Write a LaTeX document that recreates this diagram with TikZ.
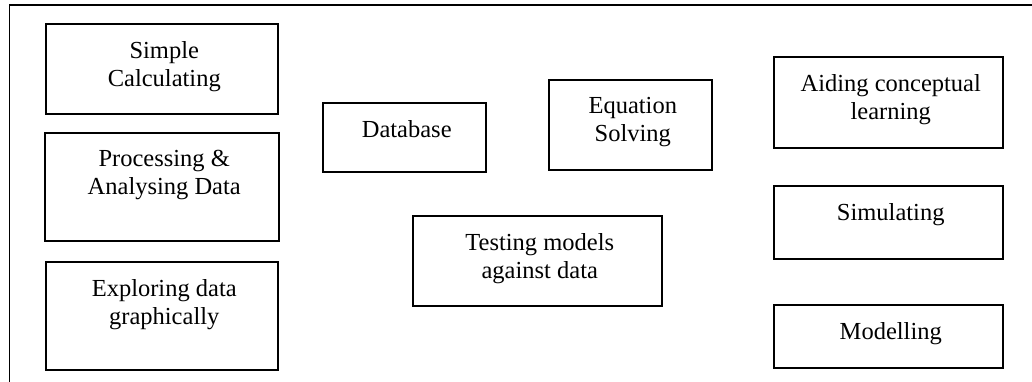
\documentclass[tikz,border=0pt]{standalone}
\usepackage{fontspec}
\setmainfont{Liberation Serif}
\tikzset{
  box/.style={draw, line width=1.5pt, rectangle, inner sep=0pt, anchor=north west},
  lbl/.style={font=\fontsize{24.5}{27.5}\selectfont, align=center, inner sep=0pt, anchor=north},
  frameline/.style={line width=1.6pt, line cap=rect},
}
\newcommand{\mybox}[6]{%
  \node[box, minimum width=#4pt, minimum height=#5pt] (#1) at (#2,#3) {};
  \node[lbl] (#1t) at ([xshift=2.5pt,yshift=-18.3pt]#1.north) {#6};
}
\begin{document}
\begin{tikzpicture}[x=1pt, y=-1pt]
  \useasboundingbox (0,0) rectangle (1032,381);
  % outer frame (top and left sides only)
  \draw[frameline] (9.5,381) -- (9.5,5) -- (1032,5);
  % boxes
  \mybox{sc}{45}{23}{232}{90}{Simple\\Calculating}
  \mybox{pad}{44}{132}{234}{108}{Processing \&\\Analysing Data}
  \mybox{exp}{45}{261}{232}{108}{Exploring data\\graphically}
  \mybox{db}{322}{102}{163}{69}{Database}
  \mybox{eq}{548}{79}{163}{90}{Equation\\Solving}
  \mybox{tm}{412}{215}{249}{90}{Testing models\\against data}
  \mybox{acl}{773}{56}{229}{91}{Aiding conceptual\\learning}
  \mybox{sim}{773}{185}{229}{73}{Simulating}
  \mybox{mod}{773}{304}{229}{63}{Modelling}
\end{tikzpicture}
\end{document}
